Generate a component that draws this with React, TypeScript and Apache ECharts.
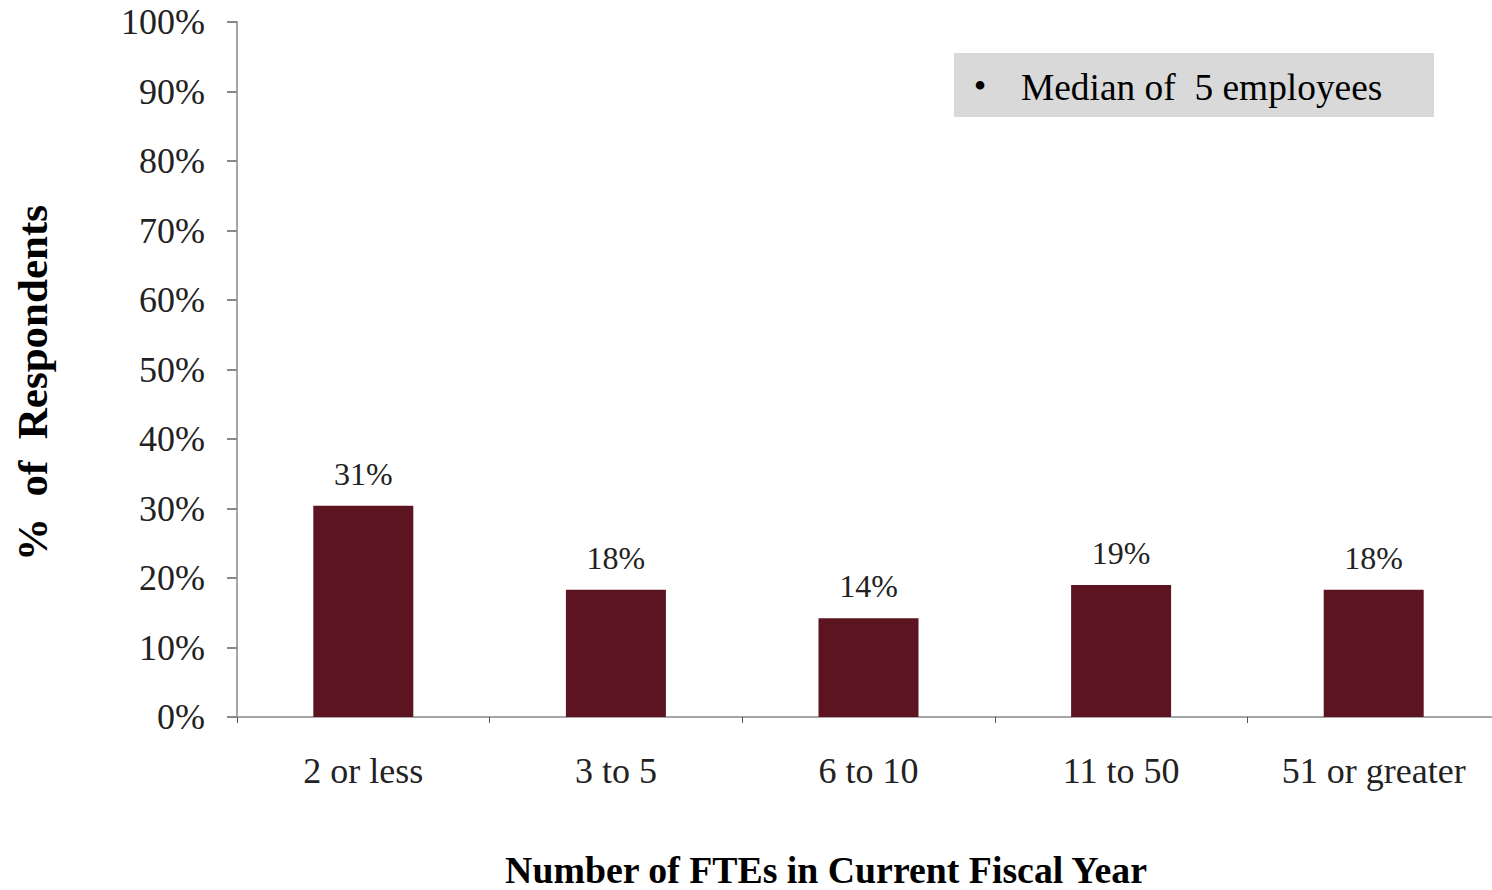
import React, { useEffect, useRef } from "react";
import * as echarts from "echarts";

const categories = ["2 or less", "3 to 5", "6 to 10", "11 to 50", "51 or greater"];
const values = [30.4, 18.3, 14.2, 19.0, 18.3];
const labelTexts = ["31%", "18%", "14%", "19%", "18%"];
const noteText = "Median of  5 employees";
const yTitle = "%  of  Respondents";
const xTitle = "Number of FTEs in Current Fiscal Year";

const SERIF = "'Liberation Serif', 'Times New Roman', serif";

export default function App() {
  const ref = useRef<HTMLDivElement>(null);
  useEffect(() => {
    if (!ref.current) return;
    const chart = echarts.init(ref.current, null, { renderer: "svg" });
    chart.setOption({
      animation: false,
      backgroundColor: "#ffffff",
      grid: { left: 237, top: 22, width: 1263, height: 695, outerBoundsMode: "none", containLabel: false },
      xAxis: {
        type: "category",
        data: categories,
        axisLine: { lineStyle: { color: "#a6a6a6", width: 2 } },
        axisTick: { show: true, length: 6, lineStyle: { color: "#555", width: 1 } },
        axisLabel: {
          fontFamily: SERIF,
          fontSize: 36,
          color: "#222",
          margin: 36,
        },
      },
      yAxis: {
        type: "value",
        min: 0,
        max: 100,
        interval: 10,
        axisLine: { show: true, lineStyle: { color: "#a6a6a6", width: 2 } },
        axisTick: { show: true, length: 10, lineStyle: { color: "#888", width: 2 } },
        splitLine: { show: false },
        axisLabel: {
          formatter: "{value}%",
          fontFamily: SERIF,
          fontSize: 36,
          color: "#222",
          margin: 32,
        },
      },
      series: [
        {
          type: "bar",
          data: values,
          barWidth: 100,
          itemStyle: { color: "#5c1520" },
          label: {
            show: true,
            position: "top",
            distance: 16,
            fontFamily: SERIF,
            fontSize: 32,
            color: "#222",
            formatter: (p: any) => labelTexts[p.dataIndex],
          },
        },
      ],
      graphic: [
        {
          type: "rect",
          shape: { x: 954, y: 53, width: 480, height: 64 },
          style: { fill: "#d9d9d9" },
        },
        {
          type: "text",
          x: 980,
          y: 86,
          style: {
            text: "•",
            font: `36px ${SERIF}`,
            fill: "#000",
            textAlign: "center",
            textVerticalAlign: "middle",
          },
        },
        {
          type: "text",
          x: 1021,
          y: 87,
          style: {
            text: noteText,
            font: `37.4px ${SERIF}`,
            fill: "#000",
            textAlign: "left",
            textVerticalAlign: "middle",
          },
        },
        {
          type: "text",
          x: 32,
          y: 383,
          rotation: Math.PI / 2,
          style: {
            text: yTitle,
            font: `bold 43px ${SERIF}`,
            fill: "#000",
            textAlign: "center",
            textVerticalAlign: "middle",
          },
        },
        {
          type: "text",
          x: 826,
          y: 870,
          style: {
            text: xTitle,
            font: `bold 37.8px ${SERIF}`,
            fill: "#000",
            textAlign: "center",
            textVerticalAlign: "middle",
          },
        },
      ],
    });
    return () => chart.dispose();
  }, []);
  return (
    <div
      ref={ref}
      style={{ position: "fixed", left: 0, top: 0, width: 1492, height: 890 }}
    />
  );
}
